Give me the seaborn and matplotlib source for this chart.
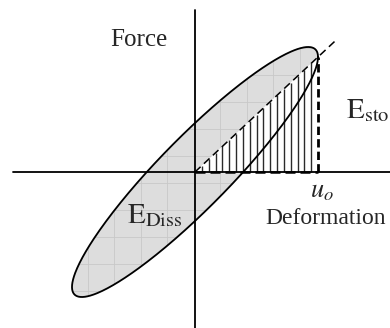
import numpy as np
import pandas as pd
import matplotlib
matplotlib.use("Agg")
import matplotlib.pyplot as plt
import seaborn as sns

# hysteresis loop parameters (same units as the drawing)
u_amp = 123.0        # deformation amplitude u_o
f_at_uamp = 115.0    # force when deformation = u_o
f_peak = 125.0       # largest force on the loop
n_hatch = 18         # vertical hatch strips under the stored-energy triangle

labels = {"force": "Force", "defo": "Deformation", "u0": r"$u_o$",
          "stored": r"$\mathrm{E}_{\mathrm{sto}}$", "diss": r"$\mathrm{E}_{\mathrm{Diss}}$"}

sns.set_style("white")
plt.rcParams["mathtext.fontset"] = "stix"
plt.rcParams["font.family"] = ["Liberation Serif", "DejaVu Serif"]

# loop: u = u0 cos t, F = Fp cos(t - phi)
phi = np.arccos(f_at_uamp / f_peak)
t = np.linspace(0, 2 * np.pi, 400)
loop = pd.DataFrame({"u": u_amp * np.cos(t), "F": f_peak * np.cos(t - phi)})
k = f_at_uamp / u_amp

fig = plt.figure(figsize=(3.9, 3.28), dpi=100)
ax = fig.add_axes([0, 0, 1, 1])
ax.set_xlim(-195, 195)
ax.set_ylim(-156, 172)
ax.axis("off")

# grey area of the loop + faint grid inside it
fill = ax.fill(loop["u"], loop["F"], color="#dddddd", zorder=1)[0]
for gx in np.arange(-28 - 26.5 * 4, 140, 26.5):
    ln = ax.axvline(gx, color="#c8c8c8", lw=0.6, zorder=1.5)
    ln.set_clip_path(fill)
for gy in np.arange(-11 - 27 * 5, 140, 27):
    ln = ax.axhline(gy, color="#c8c8c8", lw=0.6, zorder=1.5)
    ln.set_clip_path(fill)

# stored-energy triangle (white with vertical hatching)
ax.fill([0, u_amp, u_amp], [0, 0, f_at_uamp], color="white", zorder=2)
xs = np.linspace(0, u_amp, n_hatch + 1)[1:-1]
ax.vlines(xs, 0, k * xs, color="#2a2a2a", lw=1.0, zorder=3)

# axes
ax.plot([-182, 195], [0, 0], color="black", lw=1.3, zorder=4)
ax.plot([0, 0], [-156, 162], color="black", lw=1.3, zorder=4)

# loop outline
sns.lineplot(data=loop, x="u", y="F", sort=False, estimator=None,
             color="black", lw=1.3, ax=ax, zorder=5)

# dashed secant line, vertical at u_o and along the axis
diag = pd.DataFrame({"u": [0, 142], "F": [0, 142 * k]})
sns.lineplot(data=diag, x="u", y="F", sort=False, estimator=None, color="black",
             lw=1.1, ls=(0, (5, 3)), ax=ax, zorder=6)
ax.plot([u_amp, u_amp], [0, f_at_uamp], color="black", lw=2.0, ls=(0, (3, 1.5)), zorder=6)
ax.plot([0, u_amp], [0, 0], color="black", lw=1.8, ls=(0, (4, 2)), zorder=6)
ax.set_xlabel("")
ax.set_ylabel("")

# labels
ax.text(-85, 126, labels["force"], fontsize=18, va="baseline", ha="left")
ax.text(70, -52, labels["defo"], fontsize=17, va="baseline", ha="left")
ax.text(115, -25, labels["u0"], fontsize=19, va="baseline", ha="left")
ax.text(151, 54, labels["stored"], fontsize=21, va="baseline", ha="left")
ax.text(-68, -51, labels["diss"], fontsize=21, va="baseline", ha="left")

fig.savefig("out.png", dpi=100)
